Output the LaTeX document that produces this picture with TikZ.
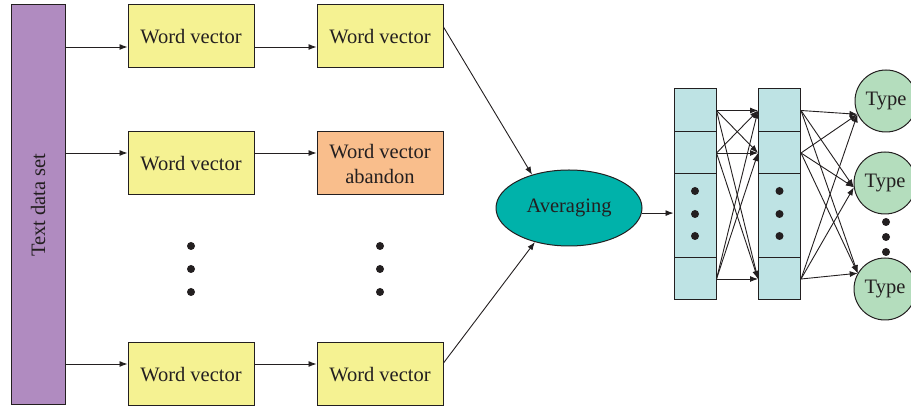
\documentclass[tikz,border=0pt]{standalone}
\usepackage{fontspec}
\setmainfont{Liberation Serif}
\usetikzlibrary{shapes.geometric,arrows.meta,calc}
\definecolor{cpurple}{RGB}{176,139,192}
\definecolor{cyellow}{RGB}{245,242,146}
\definecolor{corange}{RGB}{249,190,140}
\definecolor{cteal}{RGB}{0,178,170}
\definecolor{ccyan}{RGB}{190,227,228}
\definecolor{cgreen}{RGB}{180,221,189}
\definecolor{cline}{RGB}{35,31,32}
\tikzset{
  arr/.style={draw=cline,line width=0.9pt,-{Latex[length=8pt,width=6pt]}},
  wbox/.style={draw=cline,line width=1pt,fill=cyellow,minimum width=126pt,minimum height=63pt,inner sep=0pt,align=center,font=\fontsize{20.5}{25}\selectfont,text=cline},
  seg/.style={draw=cline,line width=1pt,fill=ccyan,minimum width=42pt,inner sep=0pt},
  typec/.style={draw=cline,line width=1pt,fill=cgreen,circle,minimum size=62pt,inner sep=0pt,font=\fontsize{20.5}{25}\selectfont,text=cline},
  dotc/.style={fill=cline,circle,minimum size=8pt,inner sep=0pt},
}
\begin{document}
\begin{tikzpicture}[x=1pt,y=-1pt]
\useasboundingbox (0,0) rectangle (911,411);
\clip (0,0) rectangle (911,411);
% input bar
\node[draw=cline,line width=1pt,fill=cpurple,minimum width=54pt,minimum height=400pt,inner sep=0pt] (bar) at (38,205) {};
\node[rotate=90,font=\fontsize{20.5}{25}\selectfont,text=cline] (bartxt) at (38,205) {Text data set};
% word vector boxes
\node[wbox] (w11) at (191,36.5) {Word vector};
\node[wbox] (w12) at (380,36.5) {Word vector};
\node[wbox] (w21) at (191,163.5) {Word vector};
\node[wbox,fill=corange] (w22) at (380,163.5) {Word vector\\abandon};
\node[wbox] (w31) at (191,374.5) {Word vector};
\node[wbox] (w32) at (380,374.5) {Word vector};
% dots
\foreach \x/\n in {191/a,380/b}{
  \foreach \y/\m in {246/1,269/2,292/3}{
    \node[dotc] (d\n\m) at (\x,\y) {};
  }
}
% arrows rows
\foreach \r/\dy in {1/10.5,2/-10.5,3/-10.5}{
  \coordinate (a\r) at ($(w\r1.west)+(0,\dy)$);
  \draw[arr] (bar.east |- a\r) -- (a\r);
  \draw[arr] (w\r1.east |- a\r) -- (w\r2.west |- a\r);
}
% averaging
\node[draw=cline,line width=1pt,fill=cteal,ellipse,minimum width=146pt,minimum height=76pt,inner sep=0pt,font=\fontsize{20.5}{25}\selectfont,text=cline] (avg) at (569,208) {Averaging};
\coordinate (o1) at ($(w12.east)+(0,-9.5)$);
\coordinate (o3) at ($(w32.east)+(0,-11.5)$);
\draw[arr] (o1) -- (avg.138);
\draw[arr] (o3) -- (avg.225);
% layers
\foreach \L/\x in {l/695,m/779.5}{
  \node[seg,minimum height=43pt] (\L a) at (\x,110.5) {};
  \node[seg,minimum height=42pt] (\L b) at (\x,153) {};
  \node[seg,minimum height=84pt] (\L c) at (\x,216) {};
  \node[seg,minimum height=42pt] (\L d) at (\x,279) {};
  \node[dotc] (\L c1) at (\x,191) {};
  \node[dotc] (\L c2) at (\x,214) {};
  \node[dotc] (\L c3) at (\x,236) {};
}
\draw[arr] (avg.-4) -- (avg.-4 -| lc.west);
\foreach \s in {a,b,d}{
  \foreach \t in {a,b,d}{
    \draw[arr] (l\s.east) -- (m\t.west);
  }
}
% outputs
\node[typec] (t1) at (886,101) {Type};
\node[typec] (t2) at (885,183) {Type};
\node[typec] (t3) at (885,289) {Type};
\node[dotc] (td1) at (886,222) {};
\node[dotc] (td2) at (886,237) {};
\node[dotc] (td3) at (886,252) {};
\foreach \s in {a,b,d}{
  \draw[arr] (m\s.east) -- (t1.205);
  \draw[arr] (m\s.east) -- (t2.188);
  \draw[arr] (m\s.east) -- (t3.150);
}
\end{tikzpicture}
\end{document}
